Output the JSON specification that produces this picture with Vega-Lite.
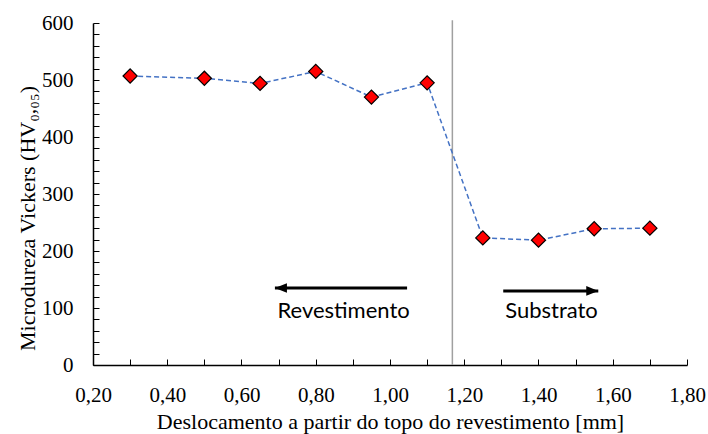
{
  "$schema": "https://vega.github.io/schema/vega-lite/v6.json",
  "width": 594,
  "height": 342,
  "autosize": {"type": "none"},
  "padding": {"left": 93, "top": 23, "right": 21, "bottom": 69},
  "background": "white",
  "config": {"view": {"stroke": null}},
  "datasets": {
    "hardness": [
      {"pos": 0.30, "hv": 507},
      {"pos": 0.50, "hv": 503},
      {"pos": 0.65, "hv": 494},
      {"pos": 0.80, "hv": 515},
      {"pos": 0.95, "hv": 470},
      {"pos": 1.10, "hv": 495},
      {"pos": 1.25, "hv": 223},
      {"pos": 1.40, "hv": 219},
      {"pos": 1.55, "hv": 239},
      {"pos": 1.70, "hv": 240}
    ],
    "interface": [{"x": 1.168, "y": 0, "y2": 605}],
    "arrows": [
      {"x": 1.046, "x2": 0.69, "y": 135, "dir": "left"},
      {"x": 1.305, "x2": 1.561, "y": 130, "dir": "right"}
    ],
    "labels": [
      {"x": 0.875, "y": 95, "text": "Revestimento"},
      {"x": 1.435, "y": 95, "text": "Substrato"}
    ]
  },
  "layer": [
    {
      "data": {"name": "interface"},
      "mark": {"type": "rule", "color": "#a0a0a0", "strokeWidth": 1.5, "clip": false},
      "encoding": {
        "x": {
          "field": "x", "type": "quantitative",
          "scale": {"domain": [0.2, 1.8], "nice": false, "zero": false},
          "title": "Deslocamento a partir do topo do revestimento [mm]",
          "axis": {
            "values": [0.2, 0.3, 0.4, 0.5, 0.6, 0.7, 0.8, 0.9, 1.0, 1.1, 1.2, 1.3, 1.4, 1.5, 1.6, 1.7, 1.8],
            "tickCount": 100,
            "labelExpr": "abs(round(datum.value * 10)) % 2 == 0 ? replace(format(datum.value, '.2f'), '.', ',') : ''",
            "grid": false,
            "domainColor": "black",
            "domainWidth": 1.5,
            "tickColor": "black",
            "tickSize": -6,
            "tickWidth": 1,
            "labelPadding": 25,
            "labelFont": "Liberation Serif",
            "labelFontSize": 21,
            "labelColor": "black",
            "labelOverlap": false,
            "labelFlush": false,
            "titleFont": "Liberation Serif",
            "titleFontSize": 22,
            "titleFontWeight": "normal",
            "titleColor": "black",
            "titleBaseline": "middle",
            "titleY": 56
          }
        },
        "y": {
          "field": "y", "type": "quantitative",
          "scale": {"domain": [0, 600], "nice": false},
          "title": "Microdureza  Vickers (HV₀,₀₅)",
          "axis": {
            "values": [0, 20, 40, 60, 80, 100, 120, 140, 160, 180, 200, 220, 240, 260, 280, 300, 320, 340, 360, 380, 400, 420, 440, 460, 480, 500, 520, 540, 560, 580, 600],
            "tickCount": 100,
            "labelExpr": "datum.value % 100 == 0 ? format(datum.value, 'd') : ''",
            "grid": false,
            "domainColor": "black",
            "domainWidth": 1.5,
            "tickColor": "black",
            "tickSize": -6,
            "tickWidth": 1,
            "labelPadding": 26,
            "labelFont": "Liberation Serif",
            "labelFontSize": 21,
            "labelColor": "black",
            "labelOverlap": false,
            "labelFlush": false,
            "titleFont": "Liberation Serif",
            "titleFontSize": 22,
            "titleFontWeight": "normal",
            "titleColor": "black",
            "titleBaseline": "middle",
            "titleX": -66,
            "titleY": 195
          }
        },
        "y2": {"field": "y2"}
      }
    },
    {
      "data": {"name": "hardness"},
      "mark": {"type": "line", "color": "#4472C4", "strokeWidth": 1.5, "strokeDash": [5, 3]},
      "encoding": {
        "x": {"field": "pos", "type": "quantitative"},
        "y": {"field": "hv", "type": "quantitative"}
      }
    },
    {
      "data": {"name": "hardness"},
      "mark": {"type": "point", "shape": "diamond", "filled": true, "fill": "#FF0000", "stroke": "black", "strokeWidth": 1.2, "size": 200, "opacity": 1},
      "encoding": {
        "x": {"field": "pos", "type": "quantitative"},
        "y": {"field": "hv", "type": "quantitative"}
      }
    },
    {
      "data": {"name": "arrows"},
      "mark": {"type": "rule", "color": "black", "strokeWidth": 3},
      "encoding": {
        "x": {"field": "x", "type": "quantitative"},
        "x2": {"field": "x2"},
        "y": {"field": "y", "type": "quantitative"}
      }
    },
    {
      "data": {"name": "arrows"},
      "mark": {"type": "point", "filled": true, "color": "black", "opacity": 1, "size": 144},
      "encoding": {
        "x": {"field": "x2", "type": "quantitative"},
        "y": {"field": "y", "type": "quantitative"},
        "shape": {
          "field": "dir", "type": "nominal",
          "scale": {"domain": ["left", "right"], "range": ["M0,0L2,-0.8L2,0.8Z", "M0,0L-2,-0.8L-2,0.8Z"]},
          "legend": null
        }
      }
    },
    {
      "data": {"name": "labels"},
      "mark": {"type": "text", "font": "Lato", "fontSize": 22, "color": "black", "baseline": "middle", "align": "center"},
      "encoding": {
        "x": {"field": "x", "type": "quantitative"},
        "y": {"field": "y", "type": "quantitative"},
        "text": {"field": "text"}
      }
    }
  ]
}
